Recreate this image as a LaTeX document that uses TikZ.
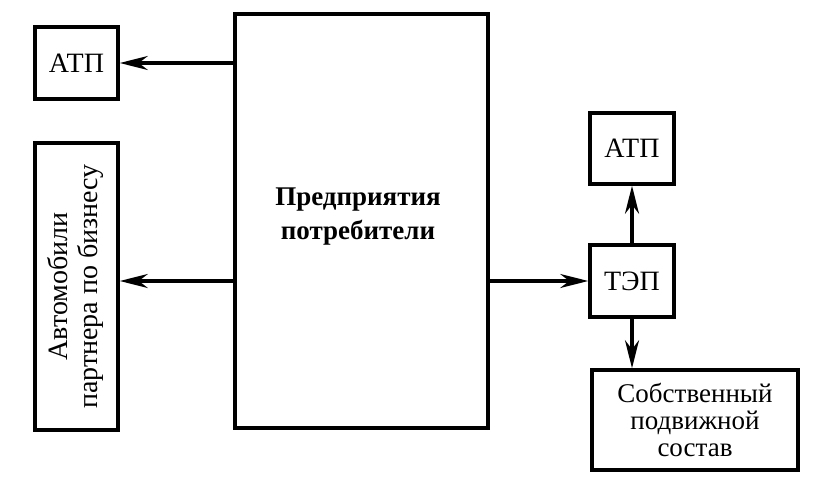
\documentclass[tikz,border=0pt]{standalone}
\usepackage{fontspec}
\setmainfont{Liberation Serif}
\usetikzlibrary{arrows.meta}

\tikzset{
  blok/.style={draw, line width=3.5pt, inner sep=0pt, align=center,
    font=\fontsize{28}{28}\selectfont},
  strelka/.style={line width=3.5pt, -{Stealth[length=28pt,width=14pt,inset=9pt]}}
}

\begin{document}
\begin{tikzpicture}[x=1pt,y=-1pt]
    \useasboundingbox (0,0) rectangle (837,492);
    \begin{scope}
      \node[blok, minimum width=83pt, minimum height=72pt] (atpL) at (76.5,63) {АТП};
      \node[blok, minimum width=83pt, minimum height=287pt] (avto) at (76.5,286.5)
        {\rotatebox{90}{\begin{tabular}{@{}c@{}}Автомобили\\[2pt]партнера по бизнесу\end{tabular}}};
      \node[blok, minimum width=253pt, minimum height=414pt] (pred) at (361.5,221) {};
      \node[font=\fontsize{27}{34}\selectfont\bfseries, align=center] (predtxt) at (358,217) {Предприятия\\потребители};
      \node[blok, minimum width=84pt, minimum height=71pt] (atpR) at (632,148.5) {АТП};
      \node[blok, minimum width=84pt, minimum height=72pt] (tep) at (632,281) {ТЭП};
      \node[blok, minimum width=206pt, minimum height=100pt, font=\fontsize{27}{27}\selectfont] (sob) at (695,420) {Собственный\\подвижной\\состав};
      \draw[strelka] (pred.west |- atpL.east) -- (atpL.east);
      \draw[strelka] (pred.west |- tep.west) -- (avto.east |- tep.west);
      \draw[strelka] (pred.east |- tep.west) -- (tep.west);
      \draw[strelka] (tep.north) -- (atpR.south);
      \draw[strelka] (tep.south) -- (tep.south |- sob.north);
    \end{scope}
  \end{tikzpicture}
\end{document}
